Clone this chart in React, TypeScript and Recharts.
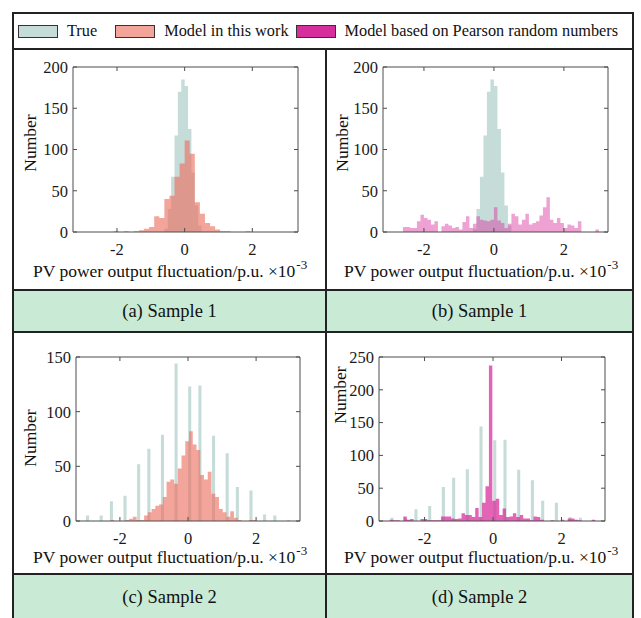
import React from 'react';
import { ComposedChart, Area, XAxis, YAxis } from 'recharts';

// ticks
const xTicks = [-2, 0, 2];
const yTicksS1 = [0, 50, 100, 150, 200];
const yTicksC = [0, 50, 100, 150];
const yTicksD = [0, 50, 100, 150, 200, 250];

// Sample 1 - measured fluctuation (bin start, bin width, counts)
const trueS1Start = -0.6;
const trueS1Width = 0.1;
const trueS1Counts = [4, 28, 67, 117, 170, 185, 177, 125, 72, 32, 8];

// Sample 1 - model in this work
const modelS1Start = -2.1;
const modelS1Width = 0.15;
const modelS1Counts = [1, 0, 1, 0, 1, 2, 4, 6, 19, 17, 40, 44, 67, 83, 111, 95, 36, 22, 11, 7, 3, 1, 1, 0, 0, 0, 1];

// Sample 1 - Pearson random numbers
const pearsonS1Start = -2.6;
const pearsonS1Width = 0.1;
const pearsonS1Counts = [
  6, 6, 5, 5, 13, 21, 17, 15, 9, 13,
  0, 7, 10, 8, 5, 6, 3, 12, 19, 5,
  10, 19, 15, 14, 13, 15, 30, 14, 11, 5,
  10, 22, 19, 9, 15, 22, 9, 11, 13, 20,
  30, 42, 15, 11, 17, 11, 5, 9, 8, 5,
  13, 0, 0, 0, 0, 3,
];

// Sample 2 - measured fluctuation is discrete, so bars sit on separate values
const trueS2Centers = [-2.95, -2.55, -2.25, -1.85, -1.45, -1.15, -0.75, -0.35, 0.05, 0.35, 0.75, 1.15, 1.45, 1.85, 2.25, 2.55, 2.95];
const trueS2Counts = [5, 5, 18, 23, 52, 66, 79, 144, 123, 124, 78, 62, 31, 28, 6, 5, 1];
const trueS2Width = 0.09;

// Sample 2 - model in this work
const modelS2Start = -2.28;
const modelS2Width = 0.11;
const modelS2Counts = [
  1, 0, 0, 0, 1, 2, 4, 1, 1, 5,
  8, 11, 14, 15, 22, 36, 38, 34, 48, 60,
  73, 82, 70, 65, 42, 38, 45, 25, 22, 11,
  8, 4, 9, 3, 1, 0, 0, 1, 1,
];

// Sample 2 - Pearson random numbers
const pearsonS2Start = -3.02;
const pearsonS2Width = 0.1;
const pearsonS2Counts = [
  2, 1, 1, 0, 7, 2, 3, 0, 0, 3,
  3, 1, 1, 1, 1, 7, 7, 7, 4, 3,
  4, 12, 9, 9, 6, 20, 6, 28, 53, 237,
  31, 34, 9, 19, 6, 7, 12, 6, 9, 4,
  4, 1, 7, 6, 2, 0, 0, 1, 0, 0,
  2, 0, 4, 4, 2, 1, 0, 0, 0, 2,
];

const TEAL = '#9ec5c0';
const SALMON = '#ed6958';
const MAGENTA = '#d9309e';
const FONT = '"Liberation Serif", "Times New Roman", serif';
const AXIS = '#4d4d4d';

type Pt = { x: number; v: number };

const binEdges = (start: number, width: number, counts: number[]): Pt[] => {
  const pts = counts.map((c, i) => ({ x: +(start + i * width).toFixed(4), v: c }));
  pts.push({ x: +(start + counts.length * width).toFixed(4), v: 0 });
  return pts;
};

const barEdges = (centers: number[], width: number, counts: number[]): Pt[] =>
  centers.flatMap((c, i) => [
    { x: +(c - width / 2).toFixed(4), v: counts[i] },
    { x: +(c + width / 2).toFixed(4), v: 0 },
  ]);

const mergeRows = (under: Pt[], over: Pt[]) =>
  [...under.map((p) => ({ x: p.x, under: p.v })), ...over.map((p) => ({ x: p.x, over: p.v }))].sort(
    (a, b) => a.x - b.x
  );

const rowsA = mergeRows(binEdges(trueS1Start, trueS1Width, trueS1Counts), binEdges(modelS1Start, modelS1Width, modelS1Counts));
const rowsB = mergeRows(binEdges(trueS1Start, trueS1Width, trueS1Counts), binEdges(pearsonS1Start, pearsonS1Width, pearsonS1Counts));
const rowsC = mergeRows(barEdges(trueS2Centers, trueS2Width, trueS2Counts), binEdges(modelS2Start, modelS2Width, modelS2Counts));
const rowsD = mergeRows(barEdges(trueS2Centers, trueS2Width, trueS2Counts), binEdges(pearsonS2Start, pearsonS2Width, pearsonS2Counts));

const Y_AXIS_W = 40;
const X_AXIS_H = 30;

interface PanelProps {
  cell: { x: number; y: number; w: number; h: number };
  plot: { x: number; y: number; w: number; h: number };
  xDomain: [number, number];
  yTicks: number[];
  rows: any[];
  overColor: string;
  overOpacity: number;
}

const Panel: React.FC<PanelProps> = ({ cell, plot, xDomain, yTicks, rows, overColor, overOpacity }) => {
  const yDomain: [number, number] = [0, yTicks[yTicks.length - 1]];
  // top / right axes are 1px tall / wide, so take them off the margins
  const margin = {
    left: plot.x - cell.x - Y_AXIS_W,
    top: plot.y - cell.y - 1,
    right: cell.x + cell.w - (plot.x + plot.w) - 1,
    bottom: cell.y + cell.h - (plot.y + plot.h) - X_AXIS_H,
  };
  const tickStyle = { fontFamily: FONT, fontSize: 16.5, fill: '#1a1a1a' };
  return (
    <div style={{ position: 'absolute', left: cell.x, top: cell.y }}>
      <ComposedChart width={cell.w} height={cell.h} data={rows} margin={margin}>
        <XAxis
          dataKey="x"
          type="number"
          domain={xDomain}
          ticks={xTicks}
          allowDataOverflow
          height={X_AXIS_H}
          tickSize={-4}
          tickMargin={15}
          tick={tickStyle}
          stroke={AXIS}
        />
        <XAxis
          xAxisId="top"
          dataKey="x"
          orientation="top"
          type="number"
          domain={xDomain}
          ticks={xTicks}
          allowDataOverflow
          height={1}
          tickSize={-4}
          tickFormatter={() => ''}
          stroke={AXIS}
        />
        <YAxis
          type="number"
          domain={yDomain}
          ticks={yTicks}
          allowDataOverflow
          width={Y_AXIS_W}
          tickSize={-4}
          tickMargin={9}
          tick={tickStyle}
          stroke={AXIS}
        />
        <YAxis
          yAxisId="right"
          orientation="right"
          type="number"
          domain={yDomain}
          ticks={yTicks}
          allowDataOverflow
          width={1}
          tickSize={-4}
          tickFormatter={() => ''}
          stroke={AXIS}
        />
        <Area
          dataKey="under"
          type="stepAfter"
          connectNulls
          stroke="none"
          fill={TEAL}
          fillOpacity={0.6}
          isAnimationActive={false}
          baseValue={0}
        />
        <Area
          dataKey="over"
          type="stepAfter"
          connectNulls
          stroke="none"
          fill={overColor}
          fillOpacity={overOpacity}
          isAnimationActive={false}
          baseValue={0}
        />
        {/* invisible series that keeps the top and right axes (the box) alive */}
        <Area
          dataKey="under"
          xAxisId="top"
          yAxisId="right"
          type="stepAfter"
          connectNulls
          stroke="none"
          fill="none"
          isAnimationActive={false}
          legendType="none"
        />
      </ComposedChart>
    </div>
  );
};

const textBase: React.CSSProperties = {
  position: 'absolute',
  fontFamily: FONT,
  fontSize: 17.5,
  color: '#111',
  whiteSpace: 'nowrap',
  lineHeight: '18px',
};

const XLabel: React.FC<{ x: number; y: number }> = ({ x, y }) => (
  <div style={{ ...textBase, left: x, top: y - 9 }}>
    PV power output fluctuation/p.u. ×10<sup style={{ fontSize: 13, verticalAlign: 'top', position: 'relative', top: -6, marginLeft: 1 }}>-3</sup>
  </div>
);

const YLabel: React.FC<{ x: number; y: number }> = ({ x, y }) => (
  <div
    style={{
      ...textBase,
      left: x,
      top: y,
      transform: 'translate(-50%, -50%) rotate(-90deg)',
    }}
  >
    Number
  </div>
);

const Caption: React.FC<{ x: number; y: number; w: number; h: number }> = ({ x, y, w, h }) => (
  <div
    style={{
      position: 'absolute',
      left: x,
      top: y,
      width: w,
      height: h,
      boxSizing: 'border-box',
      border: '2px solid #222',
      background: '#c9ead5',
    }}
  />
);

const CaptionText: React.FC<{ x: number; y: number; w: number; text: string }> = ({ x, y, w, text }) => (
  <div style={{ ...textBase, fontSize: 18.5, left: x, top: y - 10, width: w, textAlign: 'center', lineHeight: '20px' }}>{text}</div>
);

const Cell: React.FC<{ x: number; y: number; w: number; h: number }> = ({ x, y, w, h }) => (
  <div
    style={{
      position: 'absolute',
      left: x,
      top: y,
      width: w,
      height: h,
      boxSizing: 'border-box',
      border: '2px solid #222',
      background: '#fff',
    }}
  />
);

const Swatch: React.FC<{ color: string }> = ({ color }) => (
  <span
    style={{
      display: 'inline-block',
      width: 38,
      height: 11,
      background: color,
      border: '1px solid #333',
      marginRight: 9,
    }}
  />
);

export default function App() {
  return (
    <div style={{ position: 'absolute', left: 0, top: 0, width: 641, height: 618, overflow: 'hidden', background: '#fff' }}>
      {/* legend row */}
      <div
        style={{
          position: 'absolute',
          left: 12,
          top: 12,
          width: 622,
          height: 38,
          boxSizing: 'border-box',
          border: '2px solid #222',
          display: 'flex',
          alignItems: 'center',
          paddingLeft: 4,
          fontFamily: FONT,
          fontSize: 16.3,
          color: '#111',
          whiteSpace: 'nowrap',
        }}
      >
        <Swatch color="#c5dcd9" />
        <span style={{ marginRight: 18 }}>True</span>
        <Swatch color="#f4a59b" />
        <span style={{ marginRight: 7 }}>Model in this work</span>
        <Swatch color="#d62f9c" />
        <span>Model based on Pearson random numbers</span>
      </div>

      <Cell x={12} y={48} w={315} h={245} />
      <Cell x={325} y={48} w={309} h={245} />
      <Cell x={12} y={331} w={315} h={246} />
      <Cell x={325} y={331} w={309} h={246} />
      <Caption x={12} y={289} w={315} h={44} />
      <Caption x={325} y={289} w={309} h={44} />
      <Caption x={12} y={573} w={315} h={60} />
      <Caption x={325} y={573} w={309} h={60} />
      <CaptionText x={12} y={311} w={315} text="(a) Sample 1" />
      <CaptionText x={325} y={311} w={309} text="(b) Sample 1" />
      <CaptionText x={12} y={597} w={315} text="(c) Sample 2" />
      <CaptionText x={325} y={597} w={309} text="(d) Sample 2" />

      <Panel
        cell={{ x: 12, y: 48, w: 313, h: 243 }}
        plot={{ x: 73, y: 67, w: 225, h: 165 }}
        xDomain={[-3.3, 3.35]}
        yTicks={yTicksS1}
        rows={rowsA}
        overColor={SALMON}
        overOpacity={0.6}
      />
      <Panel
        cell={{ x: 325, y: 48, w: 308, h: 243 }}
        plot={{ x: 383, y: 67, w: 225, h: 165 }}
        xDomain={[-3.17, 3.26]}
        yTicks={yTicksS1}
        rows={rowsB}
        overColor={MAGENTA}
        overOpacity={0.45}
      />
      <Panel
        cell={{ x: 12, y: 333, w: 313, h: 242 }}
        plot={{ x: 76, y: 357, w: 224, h: 164 }}
        xDomain={[-3.29, 3.29]}
        yTicks={yTicksC}
        rows={rowsC}
        overColor={SALMON}
        overOpacity={0.6}
      />
      <Panel
        cell={{ x: 325, y: 333, w: 308, h: 242 }}
        plot={{ x: 379, y: 357, w: 226, h: 164 }}
        xDomain={[-3.33, 3.27]}
        yTicks={yTicksD}
        rows={rowsD}
        overColor={MAGENTA}
        overOpacity={0.75}
      />

      <XLabel x={33} y={271} />
      <XLabel x={344} y={271} />
      <XLabel x={33} y={557} />
      <XLabel x={344} y={557} />
      <YLabel x={30} y={143} />
      <YLabel x={342} y={143} />
      <YLabel x={30} y={438} />
      <YLabel x={340} y={395} />
    </div>
  );
}
